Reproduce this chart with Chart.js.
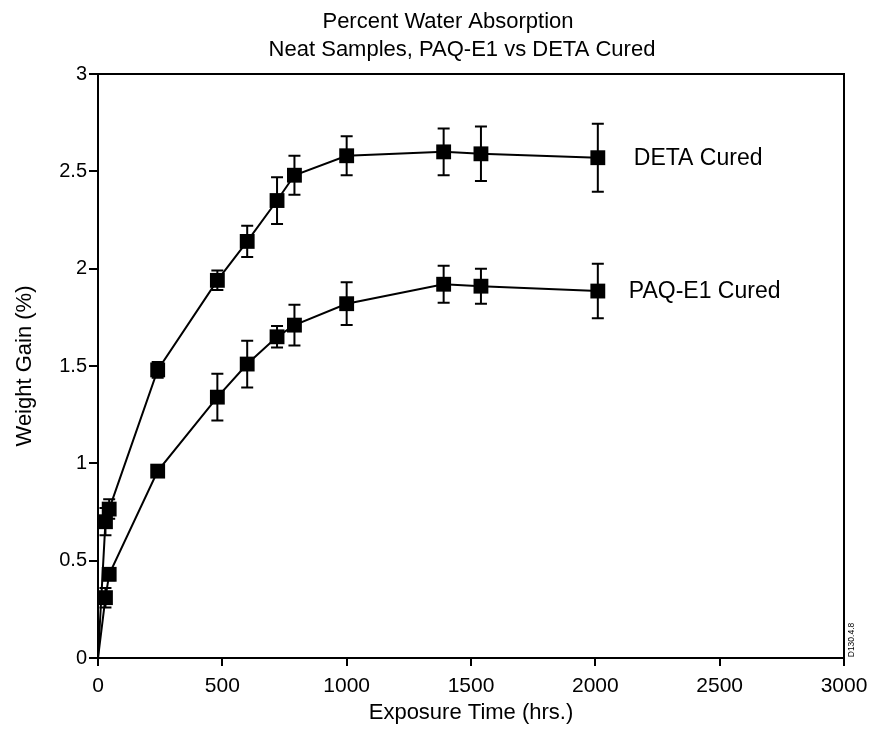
<!DOCTYPE html>
<html>
<head>
<meta charset="utf-8">
<script src="https://cdn.jsdelivr.net/npm/chart.js@4"></script>
<style>
  html, body { margin: 0; padding: 0; background: #fff; }
  #wrap { width: 870px; height: 735px; }
</style>
</head>
<body>
<div id="wrap"><canvas id="chart"></canvas></div>
<script>
var hours = [0, 30, 45, 240, 480, 600, 720, 790, 1000, 1390, 1540, 2010];
var detaGain = [0, 0.70, 0.765, 1.48, 1.94, 2.14, 2.35, 2.48, 2.58, 2.60, 2.59, 2.57];
var detaErr = [0, 0.07, 0.05, 0.04, 0.05, 0.08, 0.12, 0.10, 0.10, 0.12, 0.14, 0.175];
var paqGain = [0, 0.31, 0.43, 0.96, 1.34, 1.51, 1.65, 1.71, 1.82, 1.92, 1.91, 1.885];
var paqErr = [0, 0.05, 0.03, 0.02, 0.12, 0.12, 0.055, 0.105, 0.11, 0.095, 0.09, 0.14];
var seriesNames = ["DETA Cured", "PAQ-E1 Cured"];
var xTickLabels = ["0", "500", "1000", "1500", "2000", "2500", "3000"];
var yTickLabels = ["0", "0.5", "1", "1.5", "2", "2.5", "3"];
var titleLines = ["Percent Water Absorption", "Neat Samples, PAQ-E1 vs DETA Cured"];

var FONT = "'Liberation Sans', Arial, Helvetica, sans-serif";

function toPoints(ys) {
  return hours.map(function (h, i) { return { x: h, y: ys[i] }; });
}

// no marker on the origin point, the lines just start there
function radii() {
  return hours.map(function (h, i) { return i === 0 ? 0 : 10.5; });
}

var errors = [detaErr, paqErr];
var labelOffsets = [{ dx: 36, dy: 1 }, { dx: 31, dy: 1 }];

var errorBars = {
  id: 'errorBars',
  beforeDatasetsDraw: function (chart) {
    var ctx = chart.ctx, xs = chart.scales.x, ys = chart.scales.y;
    ctx.save();
    ctx.strokeStyle = '#000';
    ctx.lineWidth = 2;
    chart.data.datasets.forEach(function (ds, d) {
      ds.data.forEach(function (p, i) {
        var e = errors[d][i];
        if (!e) return;
        var px = xs.getPixelForValue(p.x);
        var top = ys.getPixelForValue(p.y + e);
        var bot = ys.getPixelForValue(p.y - e);
        ctx.beginPath();
        ctx.moveTo(px, top); ctx.lineTo(px, bot);
        ctx.moveTo(px - 6, top); ctx.lineTo(px + 6, top);
        ctx.moveTo(px - 6, bot); ctx.lineTo(px + 6, bot);
        ctx.stroke();
      });
    });
    ctx.restore();
  }
};

var decorations = {
  id: 'decorations',
  afterDraw: function (chart) {
    var ctx = chart.ctx, a = chart.chartArea;
    var xs = chart.scales.x, ys = chart.scales.y;
    ctx.save();
    // frame: top and right edges
    ctx.strokeStyle = '#000';
    ctx.lineWidth = 2;
    ctx.beginPath();
    ctx.moveTo(a.left, a.top); ctx.lineTo(a.right, a.top); ctx.lineTo(a.right, a.bottom);
    ctx.stroke();

    // title
    ctx.fillStyle = '#000';
    ctx.textAlign = 'center';
    ctx.textBaseline = 'middle';
    ctx.font = '22px ' + FONT;
    ctx.fillText(titleLines[0], 448, 22);
    ctx.fillText(titleLines[1], 462, 50);

    // series labels next to the last point
    ctx.textAlign = 'left';
    ctx.font = '23px ' + FONT;
    chart.data.datasets.forEach(function (ds, d) {
      var last = ds.data[ds.data.length - 1];
      var px = xs.getPixelForValue(last.x) + labelOffsets[d].dx;
      var py = ys.getPixelForValue(last.y) + labelOffsets[d].dy;
      ctx.fillText(seriesNames[d], px, py);
    });

    // figure id
    ctx.translate(a.right + 8, a.bottom - 18);
    ctx.rotate(-Math.PI / 2);
    ctx.textAlign = 'center';
    ctx.font = '8.5px ' + FONT;
    ctx.fillText('D130.4.8', 0, 0);
    ctx.restore();
  }
};

var ctx = document.getElementById('chart').getContext('2d');
var chart = new Chart(ctx, {
  type: 'line',
  data: {
    datasets: [
      { label: seriesNames[0], data: toPoints(detaGain) },
      { label: seriesNames[1], data: toPoints(paqGain) }
    ].map(function (ds) {
      ds.borderColor = '#000';
      ds.backgroundColor = '#000';
      ds.borderWidth = 2;
      ds.pointStyle = 'rect';
      ds.pointRadius = radii();
      ds.pointHoverRadius = radii();
      ds.pointBorderWidth = 0;
      ds.tension = 0;
      return ds;
    })
  },
  options: {
    responsive: true,
    maintainAspectRatio: false,
    animation: false,
    events: [],
    layout: { padding: { top: 74, right: 26, left: 0, bottom: 0 } },
    plugins: {
      legend: { display: false },
      title: { display: false },
      tooltip: { enabled: false }
    },
    scales: {
      x: {
        type: 'linear',
        min: 0,
        max: 3000,
        ticks: {
          stepSize: 500,
          color: '#000',
          font: { family: FONT, size: 21 },
          padding: 8,
          maxRotation: 0,
          callback: function (v, i) { return xTickLabels[i]; }
        },
        grid: { drawOnChartArea: false, drawTicks: true, tickLength: 8, color: '#000', lineWidth: 2 },
        border: { color: '#000', width: 2 },
        title: {
          display: true,
          text: 'Exposure Time (hrs.)',
          color: '#000',
          font: { family: FONT, size: 22 },
          padding: { top: 0, bottom: 9 }
        },
        afterFit: function (s) {
          s.height = 77;
          s.paddingLeft = 0;
          s.paddingRight = 0;
        }
      },
      y: {
        min: 0,
        max: 3,
        ticks: {
          stepSize: 0.5,
          color: '#000',
          font: { family: FONT, size: 20 },
          padding: 2,
          callback: function (v, i) { return yTickLabels[i]; }
        },
        grid: { drawOnChartArea: false, drawTicks: true, tickLength: 9, color: '#000', lineWidth: 2 },
        border: { color: '#000', width: 2 },
        title: {
          display: true,
          text: 'Weight Gain (%)',
          color: '#000',
          font: { family: FONT, size: 22 },
          padding: { top: 12, bottom: 0 }
        },
        afterFit: function (s) {
          s.width = 98;
          s.paddingTop = 0;
          s.paddingBottom = 0;
        }
      }
    }
  },
  plugins: [errorBars, decorations]
});
</script>
</body>
</html>
